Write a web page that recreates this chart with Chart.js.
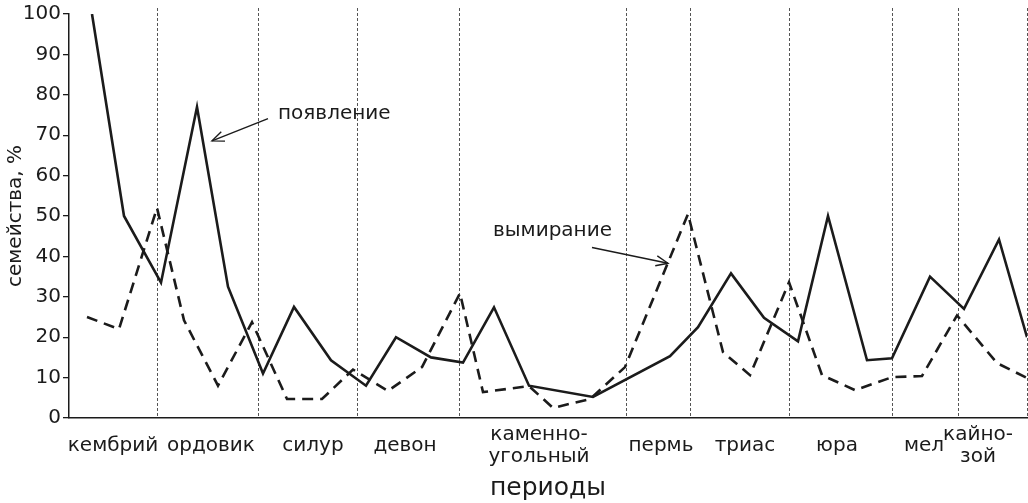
<!DOCTYPE html>
<html>
<head>
<meta charset="utf-8">
<script src="https://cdn.jsdelivr.net/npm/chart.js@4.4.1/dist/chart.umd.min.js"></script>
<style>
  html, body { margin: 0; padding: 0; background: #fff; }
</style>
</head>
<body>
<canvas id="chart" width="1028" height="503"></canvas>
<script>
// position along the time axis (relative units) and share of families, %
const appearX = [2.3, 5.5, 9.2, 12.8, 15.9, 19.4, 22.5, 26.2, 29.7, 32.7, 36.2, 39.4, 42.5, 46.0,
                 52.4, 60.1, 62.9, 66.2, 69.5, 72.9, 75.9, 79.8, 82.3, 86.1, 89.5, 93.0, 95.8];
const appearY = [100, 50, 33.5, 77, 32.5, 11, 27.5, 14.3, 8, 20, 15, 13.7, 27.4, 8,
                 5.2, 15.3, 22.5, 35.8, 24.8, 19, 50, 14.3, 14.8, 35, 27, 44.2, 20];

const extinctX = [1.8, 5.0, 8.8, 11.5, 14.9, 18.3, 21.8, 25.3, 28.4, 31.9, 35.3, 39.1, 41.4, 46.0,
                  48.4, 52.1, 55.6, 61.9, 65.4, 68.1, 72.0, 75.3, 78.6, 82.3, 85.3, 88.8, 92.8, 95.8];
const extinctY = [25, 22, 52, 24.2, 8, 23.7, 4.7, 4.7, 12, 6.7, 12.6, 30.9, 6.4, 7.9,
                  2.5, 4.7, 12.6, 50.5, 16.3, 10.6, 33.6, 10.6, 6.9, 10.1, 10.4, 25.4, 13.6, 9.9];

// period boundaries and period names
const boundaries = [8.8, 18.9, 28.8, 39.0, 55.7, 62.1, 72.0, 82.3, 88.9, 95.8];
const periodNames = [['кембрий'], ['ордовик'], ['силур'], ['девон'], ['каменно-', 'угольный'],
                     ['пермь'], ['триас'], ['юра'], ['мел'], ['кайно-', 'зой']];
const periodX = [4.4, 14.2, 24.4, 33.6, 47.0, 59.2, 67.6, 76.8, 85.5, 90.9];

// annotation anchors (x, %)
const notes = [
    { text: 'появление', at: [20.9, 75.3], from: [19.9, 74.1], to: [14.3, 68.6] },
    { text: 'вымирание', at: [42.4, 46.4], from: [52.3, 42.2], to: [59.9, 38.3] }
];

const ink = '#1b1b1b';
const fontFamily = '"DejaVu Sans", "Liberation Sans", sans-serif';

function toPoints(xs, ys) {
    return xs.map((x, i) => ({ x: x, y: ys[i] }));
}

// Dashed period separators
const separators = {
    id: 'separators',
    beforeDatasetsDraw(chart) {
        const { ctx, chartArea, scales } = chart;
        ctx.save();
        ctx.strokeStyle = '#555';
        ctx.lineWidth = 1;
        ctx.setLineDash([3, 2]);
        boundaries.forEach(b => {
            const x = Math.round(scales.x.getPixelForValue(b)) + 0.5;
            ctx.beginPath();
            ctx.moveTo(x, chartArea.top - 6);
            ctx.lineTo(x, chartArea.bottom);
            ctx.stroke();
        });
        ctx.restore();
    }
};

// Period names under the axis
const periodLabels = {
    id: 'periodLabels',
    afterDraw(chart) {
        const { ctx, chartArea, scales } = chart;
        ctx.save();
        ctx.fillStyle = ink;
        ctx.font = '20px ' + fontFamily;
        ctx.textAlign = 'center';
        ctx.textBaseline = 'middle';
        const lineH = 22;
        periodNames.forEach((lines, i) => {
            const x = scales.x.getPixelForValue(periodX[i]);
            const top = chartArea.bottom + 28 - (lines.length - 1) * lineH / 2;
            lines.forEach((t, j) => ctx.fillText(t, x, top + j * lineH));
        });
        ctx.restore();
    }
};

// Text notes with arrows
const arrows = {
    id: 'arrows',
    afterDatasetsDraw(chart) {
        const { ctx, scales } = chart;
        const px = p => [scales.x.getPixelForValue(p[0]), scales.y.getPixelForValue(p[1])];
        ctx.save();
        ctx.fillStyle = ink;
        ctx.strokeStyle = ink;
        ctx.font = '20px ' + fontFamily;
        ctx.textAlign = 'left';
        ctx.textBaseline = 'middle';
        ctx.lineWidth = 1.4;
        notes.forEach(n => {
            const [tx, ty] = px(n.at);
            ctx.fillText(n.text, tx, ty);
            const [x1, y1] = px(n.from);
            const [x2, y2] = px(n.to);
            ctx.beginPath();
            ctx.moveTo(x1, y1);
            ctx.lineTo(x2, y2);
            ctx.stroke();
            const a = Math.atan2(y2 - y1, x2 - x1);
            const len = 13, spread = 0.4;
            ctx.beginPath();
            ctx.moveTo(x2 - len * Math.cos(a - spread), y2 - len * Math.sin(a - spread));
            ctx.lineTo(x2, y2);
            ctx.lineTo(x2 - len * Math.cos(a + spread), y2 - len * Math.sin(a + spread));
            ctx.stroke();
        });
        ctx.restore();
    }
};

new Chart(document.getElementById('chart'), {
    type: 'line',
    data: {
        datasets: [{
            label: 'появление',
            data: toPoints(appearX, appearY),
            borderColor: ink,
            borderWidth: 2.6,
            pointRadius: 0,
            tension: 0
        }, {
            label: 'вымирание',
            data: toPoints(extinctX, extinctY),
            borderColor: ink,
            borderWidth: 2.6,
            borderDash: [11, 7],
            pointRadius: 0,
            tension: 0
        }]
    },
    options: {
        responsive: false,
        animation: false,
        layout: { padding: { top: 13, right: 1, left: 0, bottom: 0 } },
        plugins: {
            legend: { display: false },
            tooltip: { enabled: false }
        },
        scales: {
            x: {
                type: 'linear',
                min: 0,
                max: 95.8,
                grid: { display: false },
                border: { display: true, color: ink, width: 1.5 },
                ticks: { display: false },
                title: {
                    display: true,
                    text: 'периоды',
                    color: ink,
                    font: { family: fontFamily, size: 25 },
                    padding: 0
                },
                afterFit: s => { s.height = 85; }
            },
            y: {
                min: 0,
                max: 100,
                ticks: {
                    stepSize: 10,
                    color: ink,
                    padding: 2,
                    font: { family: fontFamily, size: 20 }
                },
                grid: { drawOnChartArea: false, drawTicks: true, tickLength: 6, color: ink, lineWidth: 1.3 },
                border: { display: true, color: ink, width: 1.5 },
                title: {
                    display: true,
                    text: 'семейства, %',
                    color: ink,
                    font: { family: fontFamily, size: 20 },
                    padding: { top: 4, bottom: 0 }
                },
                afterFit: s => { s.width = 69; }
            }
        }
    },
    plugins: [separators, periodLabels, arrows]
});
</script>
</body>
</html>
